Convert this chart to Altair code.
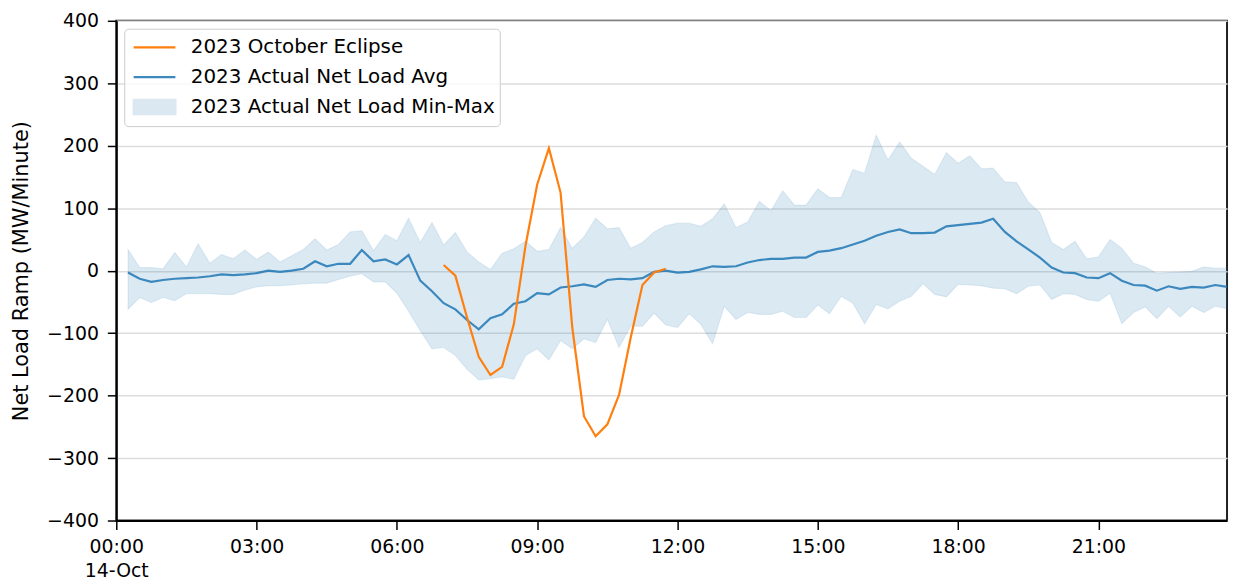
import altair as alt
import pandas as pd

# ---- data (15-minute ramps, MW/minute) ----
times = pd.date_range("2023-10-14 00:15", "2023-10-14 23:45", freq="15min")

avg = [-3, -13, -18, -15, -13, -12, -11, -9, -6, -7, -6, -4,
       0, -2, 0, 3, 15, 7, 11, 11, 33, 15, 18, 10,
       25, -16, -33, -52, -62, -79, -94, -76, -70, -53, -49, -36,
       -38, -27, -25, -22, -26, -15, -13, -14, -12, -2, 0, -3,
       -2, 2, 7, 6, 7, 13, 17, 19, 19, 21, 21, 30,
       32, 36, 42, 48, 56, 62, 66, 60, 60, 61, 71, 73,
       75, 77, 83, 62, 47, 34, 21, 5, -3, -4, -11, -12,
       -4, -16, -23, -24, -32, -25, -29, -26, -27, -23, -26]

upper = [34, 5, 5, 3, 29, 6, 43, 12, 26, 19, 33, 18,
         30, 14, 24, 34, 51, 33, 42, 62, 64, 32, 58, 48,
         84, 45, 77, 41, 61, 30, 14, 2, 28, 35, 47, 31,
         34, 69, 36, 54, 84, 67, 69, 36, 45, 62, 72, 76,
         76, 71, 83, 107, 69, 78, 111, 96, 128, 105, 105, 131,
         117, 117, 162, 156, 217, 177, 206, 180, 167, 154, 189, 172,
         184, 163, 164, 142, 141, 110, 93, 45, 34, 47, 19, 22,
         50, 36, 12, 6, -4, -3, -2, -1, 6, 4, 4]

lower = [-62, -43, -51, -43, -48, -37, -37, -37, -38, -38, -31, -26,
         -24, -24, -23, -21, -20, -20, -14, -9, -5, -18, -18, -36,
         -65, -96, -125, -123, -136, -158, -175, -173, -170, -174, -136, -125,
         -143, -112, -125, -109, -115, -78, -123, -89, -89, -68, -87, -91,
         -69, -86, -117, -57, -78, -67, -70, -70, -65, -75, -75, -55,
         -69, -41, -52, -85, -54, -61, -49, -41, -21, -38, -42, -22,
         -23, -24, -28, -29, -37, -25, -23, -46, -37, -38, -46, -49,
         -36, -85, -67, -58, -77, -57, -74, -57, -67, -57, -61]

eclipse_times = pd.date_range("2023-10-14 07:00", "2023-10-14 11:45", freq="15min")
eclipse = [9, -8, -75, -138, -167, -154, -86, 40, 138, 196,
           125, -91, -233, -265, -246, -199, -107, -23, -3, 3]

series_names = ["2023 October Eclipse",
                "2023 Actual Net Load Avg",
                "2023 Actual Net Load Min-Max"]

y_ticks = [-400, -300, -200, -100, 0, 100, 200, 300, 400]
x_tick_hours = [0, 3, 6, 9, 12, 15, 18, 21]

# ---- tables ----
band_df = pd.DataFrame({"time": times, "lo": lower, "hi": upper})
avg_df = pd.DataFrame({"time": times, "value": avg})
ecl_df = pd.DataFrame({"time": eclipse_times, "value": eclipse})
legend_df = pd.DataFrame({"series": series_names})

ORANGE = "#ff7f0e"
BLUE = "#1f77b4"
BAND = "#dbe8f2"
FONT = "DejaVu Sans"

x_scale = alt.Scale(domain=[alt.DateTime(year=2023, month=10, date=14, hours=0, minutes=0),
                            alt.DateTime(year=2023, month=10, date=14, hours=23, minutes=45)])
x_axis = alt.Axis(
    title=None,
    values=[alt.DateTime(year=2023, month=10, date=14, hours=h) for h in x_tick_hours],
    labelExpr="hours(datum.value) == 0 ? ['00:00', '14-Oct'] : timeFormat(datum.value, '%H:%M')",
    grid=False, labelLineHeight=24, labelPadding=8, labelAlign="center",
)
y_scale = alt.Scale(domain=[-400, 400], nice=False, zero=False)
y_axis = alt.Axis(title="Net Load Ramp (MW/Minute)", values=y_ticks, format="d",
                  grid=True, labelPadding=9, titleX=-95, titleBaseline="middle")

X = alt.X("time:T", scale=x_scale, axis=x_axis)

band = alt.Chart(band_df).mark_area(
    fill=BLUE, fillOpacity=0.16, stroke=BLUE, strokeOpacity=0.1, strokeWidth=1.2
).encode(
    x=X,
    y=alt.Y("lo:Q", scale=y_scale, axis=y_axis),
    y2="hi:Q",
)

avg_line = alt.Chart(avg_df).mark_line(color=BLUE, strokeWidth=2.2, opacity=0.85).encode(
    x=X, y=alt.Y("value:Q", scale=y_scale, axis=y_axis)
)

ecl_line = alt.Chart(ecl_df).mark_line(color=ORANGE, strokeWidth=2.2).encode(
    x=X, y=alt.Y("value:Q", scale=y_scale, axis=y_axis)
)

leg = alt.Legend(
    title=None, orient="top-left", offset=8, padding=4, symbolOffset=4,
    clipHeight=29.5, rowPadding=0, labelOffset=14, labelLimit=1000,
    labelFont=FONT, labelFontSize=20, labelColor="black",
    symbolSize=1764, symbolStrokeWidth=2.2, symbolOpacity=1,
    fillColor="rgba(255,255,255,0.8)", strokeColor="#cccccc", cornerRadius=4,
)
legend_layer = alt.Chart(legend_df).mark_point(opacity=0, strokeWidth=2.2).encode(
    stroke=alt.Stroke("series:N", legend=leg,
                      scale=alt.Scale(domain=series_names, range=[ORANGE, "#3d88bf", BAND])),
    fill=alt.Fill("series:N", legend=leg,
                  scale=alt.Scale(domain=series_names, range=["transparent", "transparent", BAND])),
    shape=alt.Shape("series:N", legend=leg,
                    scale=alt.Scale(domain=series_names,
                                    range=["stroke", "stroke", "M-1,-0.34L1,-0.34L1,0.34L-1,0.34Z"])),
)

chart = alt.layer(band, avg_line, ecl_line, legend_layer).properties(
    width=1118, height=503,
    padding={"left": 109, "top": 11, "right": 3, "bottom": 61},
    autosize=alt.AutoSizeParams(type="none"),
).configure_view(
    stroke="#222222", strokeWidth=2
).configure_axis(
    domainColor="black", domainWidth=2, tickColor="black", tickWidth=1.5, tickSize=9,
    labelFont=FONT, labelFontSize=19, labelColor="black",
    titleFont=FONT, titleFontSize=21, titleFontWeight="normal", titleColor="black",
    gridColor="#dddddd", gridWidth=1.5,
)

chart.save("out.html", embed_options={"renderer": "svg", "actions": False})
